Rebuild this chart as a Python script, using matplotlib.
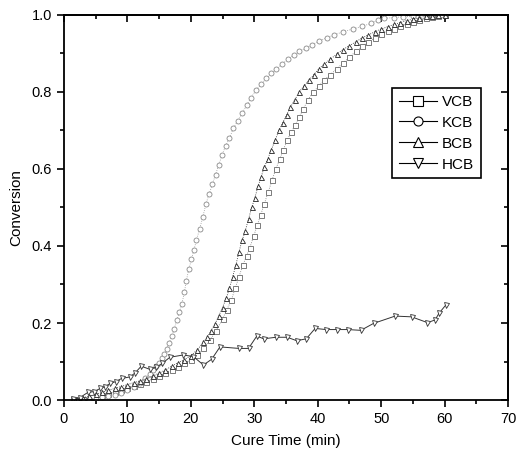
import matplotlib
matplotlib.use('Agg')
from matplotlib import pyplot as plt
from matplotlib.ticker import MultipleLocator

plt.rcParams['font.family'] = ['Liberation Sans', 'DejaVu Sans']

# values
vcb_t = [1.5, 3, 4.5, 6, 7, 8, 9, 10, 11, 12, 13, 14, 15, 16, 17, 18, 19, 20, 21,
         22, 23, 24, 25, 25.7, 26.4, 27, 27.6, 28.2, 28.8, 29.3, 29.9, 30.5, 31, 31.6,
         32.2, 32.8, 33.4, 34, 34.6, 35.2, 35.8, 36.5, 37.1, 37.7, 38.5, 39.3, 40.2,
         41, 42, 43, 44, 45, 46, 47, 48, 49, 50, 51, 52, 53, 54, 55, 56, 57, 58, 59, 60]
vcb_y = [0.002, 0.004, 0.007, 0.012, 0.016, 0.02, 0.025, 0.03, 0.036, 0.042, 0.048,
         0.055, 0.062, 0.07, 0.078, 0.087, 0.095, 0.105, 0.118, 0.135, 0.155, 0.18,
         0.21, 0.235, 0.26, 0.29, 0.32, 0.35, 0.375, 0.395, 0.425, 0.455, 0.48, 0.51,
         0.54, 0.57, 0.6, 0.625, 0.65, 0.675, 0.695, 0.715, 0.735, 0.755, 0.78, 0.8,
         0.815, 0.83, 0.845, 0.86, 0.875, 0.89, 0.905, 0.918, 0.93, 0.94, 0.95,
         0.957, 0.963, 0.97, 0.976, 0.982, 0.987, 0.991, 0.995, 0.998, 1.0]

kcb_t = [4, 5, 6, 7, 8, 9, 10, 11, 12, 12.8, 13.5, 14.1, 14.6, 15, 15.4, 15.8, 16.2,
         16.6, 17, 17.4, 17.8, 18.2, 18.6, 19, 19.3, 19.7, 20.1, 20.5, 20.9, 21.4,
         21.9, 22.4, 22.9, 23.4, 23.9, 24.4, 24.9, 25.5, 26.1, 26.7, 27.4, 28.1, 28.8,
         29.5, 30.3, 31.1, 31.9, 32.7, 33.5, 34.4, 35.3, 36.2, 37.1, 38.1, 39.1, 40.2,
         41.4, 42.6, 44, 45.5, 47, 48.4, 49.5, 50.5, 52, 53.5, 55, 56.5, 58, 59.5]
kcb_y = [0.002, 0.004, 0.007, 0.01, 0.014, 0.019, 0.026, 0.034, 0.045, 0.056, 0.067,
         0.078, 0.088, 0.097, 0.108, 0.12, 0.133, 0.148, 0.165, 0.185, 0.207, 0.228,
         0.25, 0.28, 0.31, 0.34, 0.365, 0.39, 0.415, 0.445, 0.475, 0.51, 0.535, 0.56,
         0.585, 0.61, 0.635, 0.66, 0.68, 0.705, 0.725, 0.745, 0.765, 0.785, 0.805,
         0.82, 0.835, 0.848, 0.86, 0.872, 0.885, 0.895, 0.905, 0.913, 0.922, 0.932,
         0.94, 0.948, 0.956, 0.963, 0.97, 0.978, 0.986, 0.991, 0.993, 0.995, 0.996,
         0.997, 0.999, 1.0]

bcb_t = [2, 3, 4, 5, 6, 7, 8, 9, 10, 11, 12, 13, 14, 15, 16, 17, 18, 19, 20, 21, 22,
         22.6, 23.2, 23.8, 24.4, 25, 25.6, 26.1, 26.6, 27.1, 27.6, 28.1, 28.6, 29.1,
         29.6, 30.1, 30.6, 31.1, 31.6, 32.1, 32.7, 33.3, 33.9, 34.5, 35.1, 35.7, 36.4,
         37.1, 37.8, 38.6, 39.4, 40.2, 41, 42, 43, 44, 45, 46, 47, 48, 49, 50, 51, 52,
         53, 54, 55, 56, 57, 58, 59, 60]
bcb_y = [0.003, 0.006, 0.01, 0.015, 0.02, 0.025, 0.03, 0.035, 0.04, 0.045, 0.05, 0.055,
         0.062, 0.07, 0.078, 0.088, 0.097, 0.105, 0.115, 0.13, 0.15, 0.163, 0.18, 0.197,
         0.218, 0.24, 0.265, 0.29, 0.32, 0.35, 0.385, 0.415, 0.44, 0.47, 0.5, 0.525,
         0.555, 0.58, 0.605, 0.625, 0.65, 0.675, 0.7, 0.72, 0.74, 0.76, 0.78, 0.8,
         0.815, 0.83, 0.845, 0.86, 0.872, 0.885, 0.898, 0.91, 0.92, 0.93, 0.94, 0.948,
         0.956, 0.963, 0.969, 0.975, 0.98, 0.985, 0.989, 0.993, 0.996, 0.998, 0.999, 1.0]

hcb_t = [1.5, 2.5, 3.8, 4.8, 5.7, 6.5, 7.3, 8.2, 9.1, 10.4, 11.2, 12.2, 13.5, 14.5,
         15.5, 16.7, 18.8, 20.4, 22.0, 23.3, 24.6, 27.6, 29.1, 30.4, 31.5, 33.4, 35.2,
         36.7, 38.2, 39.6, 41.3, 43.0, 44.7, 46.8, 48.8, 52.2, 54.8, 57.3, 58.5, 59.1,
         60.2]
hcb_y = [0.003, 0.006, 0.02, 0.022, 0.03, 0.035, 0.043, 0.048, 0.056, 0.06, 0.07,
         0.088, 0.08, 0.085, 0.095, 0.111, 0.117, 0.113, 0.091, 0.106, 0.138, 0.134,
         0.134, 0.166, 0.159, 0.163, 0.163, 0.154, 0.159, 0.186, 0.183, 0.183, 0.183,
         0.181, 0.199, 0.218, 0.216, 0.201, 0.208, 0.225, 0.247]

fig = plt.figure(figsize=(5.19, 4.5), dpi=100)
ax = fig.add_axes([0.123, 0.111, 0.856, 0.856])

ms = 3.6
ax.plot(vcb_t, vcb_y, color='#777777', lw=0.6, ls=':', marker='s', ms=ms,
        mfc='white', mec='#666666', mew=0.6, label='VCB')
ax.plot(kcb_t, kcb_y, color='#999999', lw=0.6, ls=':', marker='o', ms=ms,
        mfc='white', mec='#8a8a8a', mew=0.6, label='KCB')
ax.plot(bcb_t, bcb_y, color='#222222', lw=0.6, ls=':', marker='^', ms=ms,
        mfc='white', mec='#222222', mew=0.6, label='BCB')
ax.plot(hcb_t, hcb_y, color='#333333', lw=0.7, marker='v', ms=ms,
        mfc='white', mec='#333333', mew=0.6, label='HCB')

ax.set_xlim(0, 70)
ax.set_ylim(0, 1.0)
ax.xaxis.set_major_locator(MultipleLocator(10))
ax.xaxis.set_minor_locator(MultipleLocator(5))
ax.yaxis.set_major_locator(MultipleLocator(0.2))
ax.yaxis.set_minor_locator(MultipleLocator(0.1))
ax.yaxis.set_major_formatter(plt.FormatStrFormatter('%.1f'))

ax.tick_params(which='both', direction='out', labelsize=10.5, width=1.2)
ax.tick_params(which='major', length=5)
ax.tick_params(which='minor', length=3)
sx = ax.secondary_xaxis('top')
sx.set_xticks(range(0, 71, 10))
sx.set_xticks(range(5, 71, 10), minor=True)
sx.tick_params(which='both', direction='in', labeltop=False, width=1.2)
sx.tick_params(which='major', length=5)
sx.tick_params(which='minor', length=3)
sy = ax.secondary_yaxis('right')
sy.set_yticks([0, 0.2, 0.4, 0.6, 0.8, 1.0])
sy.set_yticks([0.1, 0.3, 0.5, 0.7, 0.9], minor=True)
sy.tick_params(which='both', direction='in', labelright=False, width=1.2)
sy.tick_params(which='major', length=5)
sy.tick_params(which='minor', length=3)
for s in ax.spines.values():
    s.set_linewidth(1.3)
sx.spines['top'].set_linewidth(1.3)
sy.spines['right'].set_linewidth(1.3)

ax.set_xlabel('Cure Time (min)', fontsize=11, labelpad=6)
ax.set_ylabel('Conversion', fontsize=11, labelpad=6)

leg_handles = []
for m in ['s', 'o', '^', 'v']:
    h, = ax.plot([], [], color='black', lw=0.8, marker=m, ms=6.5, mfc='white',
                 mec='black', mew=0.8)
    leg_handles.append(h)
leg = ax.legend(leg_handles, ['VCB', 'KCB', 'BCB', 'HCB'], loc='upper left',
                bbox_to_anchor=(0.739, 0.81), fontsize=11, fancybox=False,
                edgecolor='black', framealpha=1, handlelength=2.5,
                borderpad=0.45, labelspacing=0.45, handletextpad=0.3,
                borderaxespad=0)
leg.get_frame().set_linewidth(1.2)

plt.savefig('out.png', dpi=100)
